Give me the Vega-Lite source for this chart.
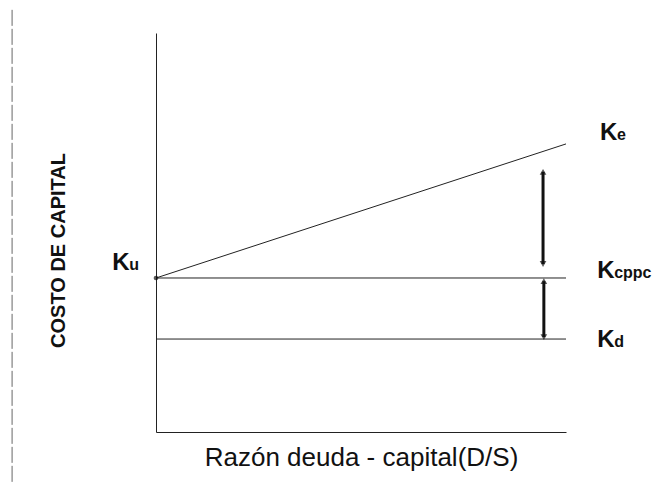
{
  "$schema": "https://vega.github.io/schema/vega-lite/v6.json",
  "width": 410,
  "height": 399,
  "autosize": {"type": "none"},
  "padding": {"left": 156, "top": 33, "right": 96, "bottom": 52},
  "background": "white",
  "config": {
    "view": {"stroke": null},
    "font": "Liberation Sans"
  },
  "datasets": {
    "lines": [
      {"serie": "Ke", "x": 0, "y": 38.6},
      {"serie": "Ke", "x": 100, "y": 72.2},
      {"serie": "Kcppc", "x": 0, "y": 38.6},
      {"serie": "Kcppc", "x": 100, "y": 38.6},
      {"serie": "Kd", "x": 0, "y": 23.3},
      {"serie": "Kd", "x": 100, "y": 23.3}
    ],
    "arrows": [
      {"tramo": "prima de riesgo", "x": 94.4, "y1": 65.2, "y2": 42.1},
      {"tramo": "ahorro", "x": 94.6, "y1": 37.8, "y2": 23.8}
    ],
    "labels": [
      {"main": "K", "sub": "e", "x": 108.3, "y": 73.2},
      {"main": "K", "sub": "cppc", "x": 107.6, "y": 38.6},
      {"main": "K", "sub": "d", "x": 107.6, "y": 21.3},
      {"main": "K", "sub": "u", "x": -10.7, "y": 40.6}
    ],
    "ku": [{"x": 0, "y": 38.6}],
    "borde": [{"x": -35.1, "y1": 105.8, "y2": -13}]
  },
  "encoding": {
    "x": {
      "field": "x",
      "type": "quantitative",
      "scale": {"domain": [0, 100]},
      "axis": {
        "title": "Razón deuda - capital(D/S)",
        "titleFontSize": 26,
        "titleFontWeight": "normal",
        "titleColor": "#111",
        "titlePadding": 12,
        "labels": false,
        "ticks": false,
        "grid": false,
        "domainColor": "#222",
        "domainWidth": 1
      }
    }
  },
  "layer": [
    {
      "data": {"name": "borde"},
      "mark": {"type": "rule", "color": "#666", "strokeWidth": 1, "strokeDash": [16, 3], "clip": false},
      "encoding": {
        "y": {"field": "y1", "type": "quantitative"},
        "y2": {"field": "y2"}
      }
    },
    {
      "data": {"name": "lines"},
      "mark": {"type": "line", "color": "#222", "strokeWidth": 1},
      "encoding": {
        "y": {
          "field": "y",
          "type": "quantitative",
          "scale": {"domain": [0, 100]},
          "axis": {
            "title": "COSTO DE CAPITAL",
            "titleFontSize": 20,
            "titleFontWeight": "bold",
            "titleColor": "#111",
            "titleAngle": -90,
            "titleAlign": "center",
            "titleBaseline": "middle",
            "titleX": -98,
            "titleY": 217,
            "labels": false,
            "ticks": false,
            "grid": false,
            "domainColor": "#222",
            "domainWidth": 1
          }
        },
        "detail": {"field": "serie"}
      }
    },
    {
      "data": {"name": "ku"},
      "mark": {"type": "point", "filled": true, "color": "#111", "size": 22},
      "encoding": {"y": {"field": "y", "type": "quantitative"}}
    },
    {
      "data": {"name": "arrows"},
      "mark": {"type": "rule", "color": "#111", "strokeWidth": 3},
      "encoding": {
        "y": {"field": "y1", "type": "quantitative"},
        "y2": {"field": "y2"}
      }
    },
    {
      "data": {"name": "arrows"},
      "mark": {"type": "point", "shape": "triangle-up", "filled": true, "color": "#111", "size": 45},
      "encoding": {"y": {"field": "y1", "type": "quantitative"}}
    },
    {
      "data": {"name": "arrows"},
      "mark": {"type": "point", "shape": "triangle-down", "filled": true, "color": "#111", "size": 45},
      "encoding": {"y": {"field": "y2", "type": "quantitative"}}
    },
    {
      "data": {"name": "labels"},
      "mark": {"type": "text", "align": "left", "baseline": "alphabetic", "fontSize": 24, "fontWeight": "bold", "color": "#111", "clip": false},
      "encoding": {
        "y": {"field": "y", "type": "quantitative"},
        "text": {"field": "main"}
      }
    },
    {
      "data": {"name": "labels"},
      "mark": {"type": "text", "align": "left", "baseline": "alphabetic", "fontSize": 16, "fontWeight": "bold", "color": "#111", "dx": 17, "clip": false},
      "encoding": {
        "y": {"field": "y", "type": "quantitative"},
        "text": {"field": "sub"}
      }
    }
  ]
}
